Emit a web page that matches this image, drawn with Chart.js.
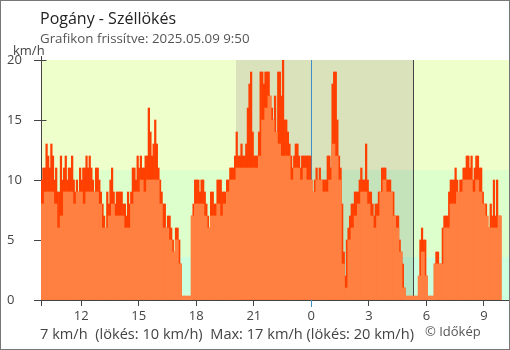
<!DOCTYPE html>
<html>
<head>
<meta charset="utf-8">
<script src="https://cdn.jsdelivr.net/npm/chart.js@4.4.1/dist/chart.umd.min.js"></script>
<style>
    html, body { margin: 0; padding: 0; background: #fff; }
    #keret { position: relative; width: 510px; height: 350px; font-family: 'Open Sans', sans-serif; }
    #keret canvas { position: absolute; left: 0; top: 0; }
    .szoveg { position: absolute; white-space: pre; line-height: 1; }
    #hatar { position: absolute; left: 0; top: 0; width: 510px; height: 350px; box-sizing: border-box; border: 1px solid #777; pointer-events: none; }
</style>
</head>
<body>
<div id="keret">
    <canvas id="grafikon" width="510" height="350"></canvas>
    <div class="szoveg" style="left:40px; top:10px; font-size:16px; color:#222;">Pogány - Széllökés</div>
    <div class="szoveg" style="left:40px; top:32px; font-size:13.3px; color:#555;">Grafikon frissítve: 2025.05.09 9:50</div>
    <div class="szoveg" style="left:13px; top:44px; font-size:13px; color:#444;">km/h</div>
    <div class="szoveg" style="left:40px; top:326px; font-size:14.6px; color:#444;">7 km/h  (lökés: 10 km/h)  Max: 17 km/h (lökés: 20 km/h)</div>
    <div class="szoveg" style="left:425px; top:325px; font-size:13px; color:#555;">© Időkép</div>
    <div id="hatar"></div>
</div>
<script>
// idotengely: ora (24 utan a kovetkezo nap)
const kezdoOra = 9.9;
const vegOra = 34.31;
const atlagLepes = 10 / 60;   // 10 perces atlag
const lokesLepes = 5 / 60;    // 5 perces lokes
const tickOrak = [12, 15, 18, 21, 24, 27, 30, 33];
const tickCimkek = ['12', '15', '18', '21', '0', '3', '6', '9'];
const ejjelKezd = 20.07;
const ejjelVeg = 29.32;      // napkelte
const ejfel = 24;
const savHatarok = [3.6, 10.8];
const rajzSzelesseg = 468;   // 510 - 7 - 34 - 1 (a layout-bol)

// atlagos szelsebesseg, km/h
const atlagKmh = [
    8, 9, 9, 9, 8, 6, 7, 9, 9, 9, 8, 9, 9, 8, 9, 9, 9, 9, 8, 6, 6, 7, 8, 7,
    7, 7, 6, 6, 8, 9, 9, 10, 9, 10, 10, 10, 10, 8, 6, 6, 5, 4, 5, 3, 0, 0, 0, 7, 8,
    8, 8, 7, 6, 7, 7, 8, 7, 8, 9, 10, 10, 11, 11, 11, 11, 11, 11, 11, 12, 15, 16, 17, 15, 14,
    13, 12, 12, 12, 10, 11, 11, 10, 11, 10, 10, 9, 10, 10, 9, 9, 10, 13, 12, 10, 3, 1, 5, 6, 7,
    8, 9, 9, 8, 7, 6, 7, 9, 10, 9, 9, 7, 6, 4, 1, 0, 0, 0, 0, 2, 4, 2, 0, 0,
    3, 3, 3, 6, 6, 8, 8, 9, 9, 10, 10, 10, 9, 10, 9, 8, 7, 6, 6, 6, 7
];

// szellokes, km/h
const lokesKmh = [
    10, 11, 11, 13, 12, 11, 13, 12, 10, 11, 9, 9, 12, 10, 11, 12, 10, 11, 11, 12,
    10, 9, 10, 9, 11, 10, 11, 11, 12, 11, 12, 11, 10, 9, 11, 11, 10, 9, 8, 7,
    6, 9, 8, 10, 11, 9, 8, 9,
    9, 9, 9, 8, 8, 7, 9, 8, 9, 11, 11, 10, 12, 11, 12, 11, 11, 12, 12, 16,
    14, 12, 13, 15, 13, 11, 10, 9, 8, 8, 6, 7, 7, 6, 5, 4, 6, 6, 5, 3,
    0, 0, 0, 0, 0, 0, 7, 8, 10, 10,
    10, 9, 10, 10, 9, 8, 7, 6, 9, 9, 8, 8, 10, 10, 10, 9, 9, 9, 10, 10,
    11, 11, 11, 12, 14, 12, 12, 13, 12, 12, 13, 16, 18, 19, 14, 12, 12, 12, 14, 19,
    19, 18, 19, 19, 19, 17, 16, 15, 17, 14,
    19, 19, 17, 20, 15, 15, 14, 13, 12, 11, 12, 13, 13, 12, 11, 12, 12, 12, 12, 12,
    12, 9, 9, 10, 11, 10, 11, 10, 10, 10, 10, 12, 12, 11, 18, 19, 19, 15, 12, 11,
    8, 4, 2, 5, 6, 7, 8, 8, 9, 9,
    9, 10, 11, 10, 10, 13, 10, 9, 9, 8, 7, 8, 8, 9, 9, 11, 11, 11, 10, 10,
    10, 9, 9, 7, 7, 7, 5, 4, 3, 1, 0, 0, 0, 0, 0, 0, 0, 0, 0, 5,
    6, 5, 5, 2, 0, 0, 0, 0,
    3, 4, 4, 3, 3, 6, 7, 7, 7, 9, 10, 10, 10, 11, 10, 9, 10, 10, 11, 11,
    12, 12, 11, 12, 10, 11, 12, 12, 11, 11, 9, 8, 8, 6, 6, 8, 7, 10, 7, 10,
    7, 7
];

const nappaliSzinek = ['#eeffcc', '#ddffcc', '#ccffdd'];
const ejjeliSzinek = ['#d9e2bb', '#c4e3bb', '#b4e3c4'];

// hatter savok, ejszaka, ejfel es napkelte vonal, belso tickek
const hatterPlugin = {
    id: 'hatter',
    beforeDraw(chart) {
        const { ctx, chartArea: a, scales: { x, y } } = chart;
        const yAlso = Math.round(y.getPixelForValue(savHatarok[0]));
        const yFelso = Math.round(y.getPixelForValue(savHatarok[1]));
        const savok = (x0, x1, szinek) => {
            ctx.fillStyle = szinek[0];
            ctx.fillRect(x0, a.top, x1 - x0, yFelso - a.top);
            ctx.fillStyle = szinek[1];
            ctx.fillRect(x0, yFelso, x1 - x0, yAlso - yFelso);
            ctx.fillStyle = szinek[2];
            ctx.fillRect(x0, yAlso, x1 - x0, a.bottom - yAlso);
        };
        ctx.save();
        ctx.fillStyle = '#fff';
        ctx.fillRect(0, 0, chart.width, chart.height);
        savok(a.left, a.right, nappaliSzinek);
        savok(Math.round(x.getPixelForValue(ejjelKezd)), Math.round(x.getPixelForValue(ejjelVeg)), ejjeliSzinek);
        ctx.restore();
    },
    beforeDatasetsDraw(chart) {
        const { ctx, chartArea: a, scales: { x, y } } = chart;
        ctx.save();
        ctx.lineWidth = 1;
        // ejfel
        let px = Math.round(x.getPixelForValue(ejfel)) + 0.5;
        ctx.strokeStyle = '#3d8fc6';
        ctx.beginPath();
        ctx.moveTo(px, a.top);
        ctx.lineTo(px, a.bottom + 7);
        ctx.stroke();
        // napkelte
        px = Math.round(x.getPixelForValue(ejjelVeg)) + 0.5;
        ctx.strokeStyle = '#444';
        ctx.beginPath();
        ctx.moveTo(px, a.top);
        ctx.lineTo(px, a.bottom);
        ctx.stroke();
        // y tengely meghosszabbitas es belso tickek
        const lx = Math.round(a.left) + 0.5;
        ctx.beginPath();
        ctx.moveTo(lx, a.top - 4);
        ctx.lineTo(lx, a.bottom + 6);
        y.ticks.forEach(t => {
            const py = Math.round(y.getPixelForValue(t.value)) + 0.5;
            ctx.moveTo(lx, py);
            ctx.lineTo(lx + 5, py);
        });
        ctx.stroke();
        ctx.restore();
    }
};

document.addEventListener('DOMContentLoaded', function() {
    const ctx = document.getElementById('grafikon').getContext('2d');
    const oraPx = rajzSzelesseg / (vegOra - kezdoOra);

    const data = {
        datasets: [{
            label: 'Szél',
            data: atlagKmh.map((v, i) => ({ x: kezdoOra + (i + 0.5) * atlagLepes, y: v })),
            backgroundColor: '#ff8040',
            barThickness: atlagLepes * oraPx,
            barPercentage: 1,
            grouped: false,
            minBarLength: 4,
            clip: 0,
            order: 0
        }, {
            label: 'Széllökés',
            data: lokesKmh.map((v, i) => ({ x: kezdoOra + (i + 0.5) * lokesLepes, y: v })),
            backgroundColor: '#ff4000',
            barThickness: lokesLepes * oraPx,
            barPercentage: 1,
            grouped: false,
            clip: 0,
            order: 1
        }]
    };

    const tickFont = { family: "'Open Sans', sans-serif", size: 13 };

    new Chart(ctx, {
        type: 'bar',
        data: data,
        plugins: [hatterPlugin],
        options: {
            responsive: false,
            animation: false,
            devicePixelRatio: 1,
            layout: {
                padding: { left: 7, right: 1, top: 60, bottom: 0 }
            },
            plugins: {
                legend: { display: false },
                tooltip: { enabled: false },
                title: { display: false }
            },
            scales: {
                x: {
                    type: 'linear',
                    min: kezdoOra,
                    max: vegOra,
                    offset: false,
                    afterBuildTicks: s => { s.ticks = tickOrak.map(v => ({ value: v })); },
                    afterFit: s => { s.height = 50; },
                    grid: { offset: false, drawOnChartArea: false, tickLength: 6, color: '#444' },
                    border: { color: '#444' },
                    ticks: {
                        autoSkip: false,
                        maxRotation: 0,
                        padding: 2,
                        color: '#444',
                        font: tickFont,
                        callback: (v, i) => tickCimkek[i]
                    }
                },
                y: {
                    min: 0,
                    max: 20,
                    afterFit: s => { s.width = 34; },
                    grid: { drawOnChartArea: false, tickLength: 7, color: '#444' },
                    border: { color: '#444' },
                    ticks: {
                        stepSize: 5,
                        crossAlign: 'far',
                        color: '#444',
                        font: tickFont
                    }
                }
            }
        }
    });
});
</script>
</body>
</html>
